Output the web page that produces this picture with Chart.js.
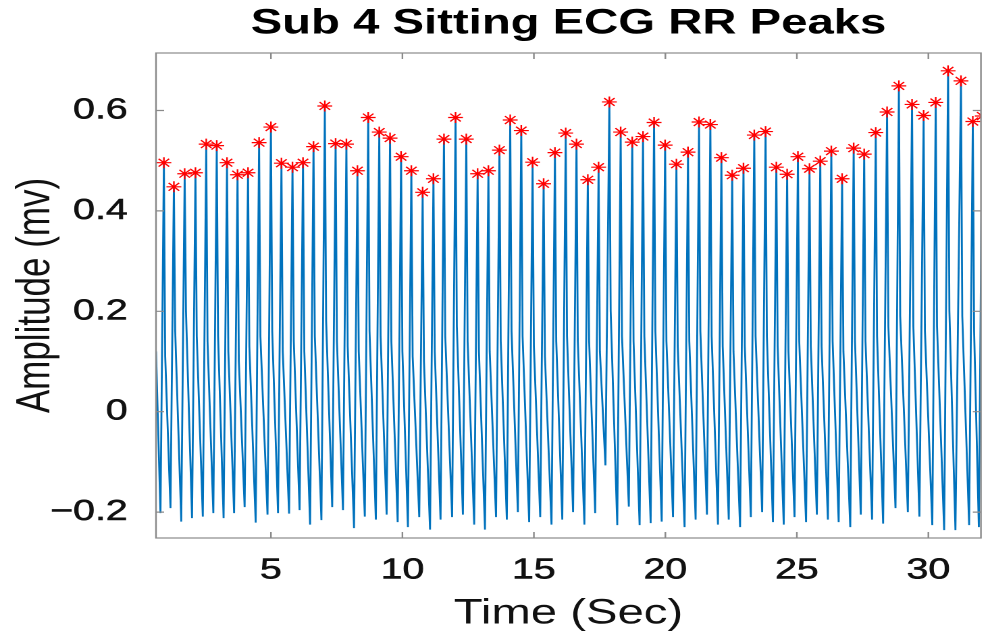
<!DOCTYPE html>
<html>
<head>
<meta charset="utf-8">
<script src="https://cdn.jsdelivr.net/npm/chart.js@4/dist/chart.umd.min.js"></script>
<style>
  html, body { margin: 0; padding: 0; background: #fff; overflow: hidden; }
  /* the reference figure is stretched sideways, so draw narrow and stretch */
  #wrap { width: 733px; height: 638px; transform: scaleX(1.3506); transform-origin: 0 0; }
</style>
</head>
<body>
<div id="wrap"><canvas id="myChart"></canvas></div>
<script>
  const xTicks = [5, 10, 15, 20, 25, 30];
  const yTicks = [-0.2, 0, 0.2, 0.4, 0.6];

  // R peaks (sec, mV)
  const peakTimes = [
    0.93, 1.31, 1.72, 2.13, 2.54, 2.94, 3.33, 3.73, 4.13, 4.55,
    5.00, 5.40, 5.82, 6.22, 6.62, 7.05, 7.46, 7.87, 8.29, 8.70,
    9.12, 9.53, 9.95, 10.34, 10.77, 11.18, 11.58, 12.02, 12.43, 12.86,
    13.27, 13.69, 14.10, 14.52, 14.95, 15.37, 15.80, 16.21, 16.62, 17.05,
    17.46, 17.87, 18.30, 18.74, 19.15, 19.57, 19.99, 20.42, 20.86, 21.28,
    21.71, 22.13, 22.54, 22.97, 23.38, 23.81, 24.22, 24.63, 25.04, 25.48,
    25.89, 26.31, 26.72, 27.16, 27.56, 28.00, 28.43, 28.88, 29.38, 29.82,
    30.28, 30.75, 31.24, 31.69, 32.05
  ];
  const peakAmps = [
    0.496, 0.448, 0.474, 0.476, 0.533, 0.530, 0.496, 0.472, 0.476, 0.536,
    0.567, 0.495, 0.487, 0.496, 0.528, 0.609, 0.534, 0.533, 0.480, 0.586,
    0.557, 0.545, 0.508, 0.480, 0.437, 0.464, 0.543, 0.586, 0.543, 0.474,
    0.480, 0.521, 0.581, 0.560, 0.497, 0.454, 0.516, 0.555, 0.533, 0.462,
    0.487, 0.617, 0.557, 0.537, 0.548, 0.576, 0.531, 0.493, 0.517, 0.577,
    0.572, 0.506, 0.471, 0.485, 0.551, 0.558, 0.487, 0.473, 0.508, 0.484,
    0.499, 0.519, 0.464, 0.525, 0.513, 0.556, 0.597, 0.649, 0.612, 0.590,
    0.616, 0.679, 0.659, 0.578, 0.589
  ];

  // fast drop right after each peak
  const kneeTimes = [
    0.98, 1.36, 1.77, 2.18, 2.59, 2.99, 3.38, 3.78, 4.18, 4.60,
    5.05, 5.45, 5.87, 6.27, 6.67, 7.10, 7.51, 7.92, 8.34, 8.75,
    9.17, 9.58, 10.00, 10.39, 10.82, 11.23, 11.63, 12.07, 12.48, 12.91,
    13.32, 13.74, 14.15, 14.57, 15.00, 15.42, 15.85, 16.26, 16.67, 17.10,
    17.51, 17.92, 18.35, 18.79, 19.20, 19.62, 20.04, 20.47, 20.91, 21.33,
    21.76, 22.18, 22.59, 23.02, 23.43, 23.86, 24.27, 24.68, 25.09, 25.53,
    25.94, 26.36, 26.77, 27.21, 27.61, 28.05, 28.48, 28.93, 29.43, 29.87,
    30.33, 30.80, 31.29, 31.74, 32.10
  ];
  const kneeAmps = [
    0.11, 0.16, 0.20, 0.15, 0.14, 0.15, 0.12, 0.10, 0.13, 0.15,
    0.16, 0.12, 0.14, 0.12, 0.15, 0.18, 0.14, 0.13, 0.12, 0.16,
    0.15, 0.14, 0.12, 0.11, 0.10, 0.12, 0.15, 0.17, 0.14, 0.12,
    0.12, 0.14, 0.16, 0.15, 0.13, 0.11, 0.14, 0.15, 0.14, 0.14,
    0.12, 0.20, 0.15, 0.14, 0.15, 0.16, 0.14, 0.13, 0.14, 0.16,
    0.15, 0.13, 0.12, 0.13, 0.15, 0.15, 0.13, 0.12, 0.14, 0.13,
    0.13, 0.14, 0.12, 0.14, 0.14, 0.15, 0.17, 0.19, 0.17, 0.16,
    0.17, 0.20, 0.19, 0.16, 0.16
  ];

  // lowest point just before each peak
  const troughTimes = [
    0.80, 1.18, 1.59, 2.00, 2.41, 2.81, 3.20, 3.60, 4.00, 4.42,
    4.87, 5.27, 5.69, 6.09, 6.49, 6.92, 7.33, 7.74, 8.16, 8.57,
    8.99, 9.40, 9.82, 10.21, 10.64, 11.05, 11.45, 11.89, 12.30, 12.73,
    13.14, 13.56, 13.97, 14.39, 14.82, 15.24, 15.67, 16.08, 16.49, 16.92,
    17.33, 17.72, 18.17, 18.61, 19.02, 19.44, 19.86, 20.29, 20.73, 21.15,
    21.58, 22.00, 22.41, 22.84, 23.25, 23.68, 24.09, 24.50, 24.91, 25.35,
    25.76, 26.18, 26.59, 27.03, 27.43, 27.86, 28.28, 28.75, 29.22, 29.66,
    30.15, 30.60, 31.03, 31.55, 31.92
  ];
  const troughAmps = [
    -0.202, -0.192, -0.219, -0.212, -0.209, -0.202, -0.212, -0.202, -0.190, -0.221,
    -0.205, -0.202, -0.203, -0.196, -0.225, -0.216, -0.190, -0.196, -0.232, -0.209,
    -0.215, -0.205, -0.220, -0.230, -0.210, -0.235, -0.215, -0.210, -0.205, -0.225,
    -0.235, -0.210, -0.215, -0.200, -0.220, -0.210, -0.225, -0.215, -0.200, -0.225,
    -0.202, -0.107, -0.226, -0.189, -0.226, -0.222, -0.219, -0.210, -0.230, -0.215,
    -0.205, -0.225, -0.215, -0.230, -0.210, -0.200, -0.220, -0.225, -0.210, -0.220,
    -0.205, -0.215, -0.220, -0.230, -0.205, -0.215, -0.223, -0.192, -0.200, -0.209,
    -0.226, -0.236, -0.236, -0.226, -0.230
  ];

  const startTime = 0.63;
  const startAmp = 0.12;

  const signal = [{ x: startTime, y: startAmp }];
  for (let i = 0; i < peakTimes.length; i++) {
    signal.push({ x: troughTimes[i], y: troughAmps[i] });
    signal.push({ x: peakTimes[i], y: peakAmps[i] });
    signal.push({ x: kneeTimes[i], y: kneeAmps[i] });
  }
  const peaks = peakTimes.map((t, i) => ({ x: t, y: peakAmps[i] }));

  const fontFamily = '"Liberation Sans", Arial, Helvetica, sans-serif';
  const textColor = '#111';
  const axisColor = '#8a8a8a';

  // MATLAB style box with inward ticks
  const boxPlugin = {
    id: 'boxPlugin',
    afterDraw(chart) {
      const { ctx, chartArea: a, scales } = chart;
      ctx.save();
      ctx.strokeStyle = axisColor;
      ctx.lineWidth = 1.2;
      ctx.strokeRect(a.left, a.top, a.right - a.left, a.bottom - a.top);
      ctx.beginPath();
      xTicks.forEach(v => {
        const px = scales.x.getPixelForValue(v);
        ctx.moveTo(px, a.bottom); ctx.lineTo(px, a.bottom - 6);
        ctx.moveTo(px, a.top); ctx.lineTo(px, a.top + 6);
      });
      yTicks.forEach(v => {
        const py = scales.y.getPixelForValue(v);
        ctx.moveTo(a.left, py); ctx.lineTo(a.left + 6, py);
        ctx.moveTo(a.right, py); ctx.lineTo(a.right - 6, py);
      });
      ctx.stroke();
      ctx.restore();
    }
  };

  const config = {
    type: 'line',
    data: {
      datasets: [{
        label: 'Peaks',
        data: peaks,
        showLine: false,
        pointStyle: 'star',
        pointRadius: 5.5,
        borderColor: '#ff0000',
        backgroundColor: '#ff0000',
        pointBorderWidth: 1.2,
        order: 0
      }, {
        label: 'ECG',
        data: signal,
        borderColor: '#0072BD',
        borderWidth: 1.4,
        pointRadius: 0,
        fill: false,
        tension: 0,
        order: 1
      }]
    },
    options: {
      responsive: true,
      maintainAspectRatio: false,
      devicePixelRatio: 2,
      animation: false,
      layout: { padding: { left: 0, right: 1, top: 0, bottom: 0 } },
      plugins: {
        legend: { display: false },
        tooltip: { enabled: false },
        title: {
          display: true,
          fullSize: false,
          text: 'Sub 4 Sitting ECG RR Peaks',
          color: '#000',
          font: { family: fontFamily, size: 35, weight: 'bold' },
          padding: { top: 3, bottom: 8 }
        }
      },
      scales: {
        x: {
          type: 'linear',
          min: 0.63,
          max: 32,
          grid: { display: false },
          border: { display: false },
          afterFit: s => { s.height = 100; },
          afterBuildTicks: s => { s.ticks = xTicks.map(v => ({ value: v })); },
          ticks: {
            color: textColor,
            textStrokeColor: textColor,
            textStrokeWidth: 0.6,
            padding: 7,
            maxRotation: 0,
            font: { family: fontFamily, size: 29 }
          },
          title: {
            display: true,
            text: 'Time (Sec)',
            color: textColor,
            font: { family: fontFamily, size: 35 },
            padding: { top: 4, bottom: 3 }
          }
        },
        y: {
          type: 'linear',
          min: -0.2516,
          max: 0.7145,
          grid: { display: false },
          border: { display: false },
          afterFit: s => { s.width = 115.5; },
          afterBuildTicks: s => { s.ticks = yTicks.map(v => ({ value: v })); },
          ticks: {
            color: textColor,
            textStrokeColor: textColor,
            textStrokeWidth: 0.6,
            padding: 13,
            font: { family: fontFamily, size: 29 },
            callback: v => (v < 0 ? '\u2212' + Math.abs(v) : String(v))
          },
          title: {
            display: true,
            text: 'Amplitude (mv)',
            color: textColor,
            font: { family: fontFamily, size: 35 },
            padding: { top: 6, bottom: 4 }
          }
        }
      }
    },
    plugins: [boxPlugin]
  };

  const myChart = new Chart(document.getElementById('myChart'), config);
</script>
</body>
</html>
